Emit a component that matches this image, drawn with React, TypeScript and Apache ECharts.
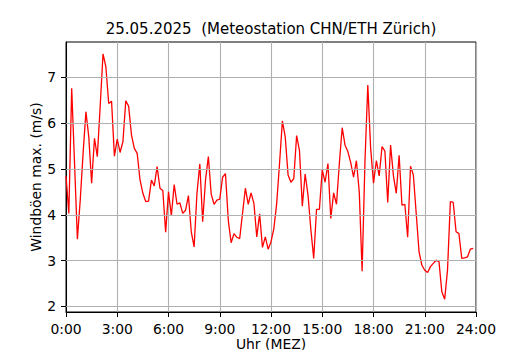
import React, { useEffect, useRef } from "react";
import * as echarts from "echarts";

// 10-minute wind gust maxima (m/s), starting 0:00
const startHour = 0;
const stepMinutes = 10;
const gustValues = [
  4.85, 4.03, 6.76, 5.12, 3.47, 4.32, 5.34, 6.25, 5.7, 4.69,
  5.67, 5.27, 6.36, 7.51, 7.23, 6.43, 6.48, 5.28, 5.65, 5.36,
  5.6, 6.49, 6.37, 5.74, 5.45, 5.34, 4.76, 4.47, 4.29, 4.3,
  4.76, 4.63, 5.05, 4.58, 4.53, 3.62, 4.5, 3.98, 4.66, 4.23,
  4.26, 4.03, 4.1, 4.42, 3.63, 3.3, 4.47, 5.11, 3.85, 4.76,
  5.27, 4.45, 4.23, 4.32, 4.34, 4.82, 4.9, 3.88, 3.39, 3.59,
  3.51, 3.48, 4.03, 4.58, 4.23, 4.48, 4.25, 3.52, 4.02, 3.29,
  3.52, 3.25, 3.41, 3.7, 4.25, 5.12, 6.05, 5.7, 4.87, 4.71,
  4.79, 5.73, 5.4, 4.19, 4.89, 4.43, 3.68, 3.05, 4.12, 4.12,
  4.98, 4.71, 5.12, 3.92, 4.48, 4.23, 5.12, 5.9, 5.52, 5.38,
  5.14, 4.82, 5.18, 4.5, 2.77, 5.16, 6.83, 5.45, 4.69, 5.18,
  4.85, 5.49, 5.39, 4.27, 5.52, 4.85, 4.47, 5.3, 4.21, 4.23,
  3.51, 5.06, 4.87, 4.03, 3.19, 2.9, 2.79, 2.74, 2.87, 2.94,
  3.01, 2.98, 2.32, 2.16, 2.8, 4.29, 4.27, 3.63, 3.59, 3.05,
  3.06, 3.08, 3.25, 3.27,
];

const xTickValues = [0, 3, 6, 9, 12, 15, 18, 21, 24];
const xTickLabels = ["0:00", "3:00", "6:00", "9:00", "12:00", "15:00", "18:00", "21:00", "24:00"];
const yTickValues = [2, 3, 4, 5, 6, 7];
const yMin = 1.88;
const yMax = 7.77;

const titleText = "25.05.2025  (Meteostation CHN/ETH Zürich)";
const xName = "Uhr (MEZ)";
const yName = "Windböen max. (m/s)";

const FONT = "DejaVu Sans";

export default function App() {
  const ref = useRef<HTMLDivElement>(null);

  useEffect(() => {
    if (!ref.current) return;
    const chart = echarts.init(ref.current, undefined, { renderer: "svg" });
    const seriesData = gustValues.map((v, i) => [startHour + (i * stepMinutes) / 60, v]);
    const gridLeft = 66;
    const gridTop = 42;
    const gridWidth = 410;
    const gridHeight = 270;

    chart.setOption({
      animation: false,
      backgroundColor: "#ffffff",
      textStyle: { fontFamily: FONT },
      grid: {
        left: gridLeft,
        top: gridTop,
        width: gridWidth,
        height: gridHeight,
        show: true,
        borderColor: "#000000",
        borderWidth: 1,
        backgroundColor: "transparent",
        containLabel: false,
        outerBoundsMode: "none",
      },
      graphic: [
        {
          type: "text",
          x: gridLeft + gridWidth / 2,
          y: 36,
          style: {
            text: titleText,
            fontFamily: FONT,
            fontSize: 15,
            fill: "#000000",
            textAlign: "center",
            textVerticalAlign: "bottom",
          },
        },
      ],
      xAxis: {
        type: "value",
        min: 0,
        max: 24,
        interval: 3,
        name: xName,
        nameLocation: "middle",
        nameGap: 25,
        nameMoveOverlap: false,
        nameTextStyle: { fontFamily: FONT, fontSize: 13.9, lineHeight: 13, color: "#000000" },
        axisLine: { show: true, onZero: false, lineStyle: { color: "#000000", width: 1 } },
        axisTick: { show: true, length: 5, lineStyle: { color: "#000000", width: 1 } },
        axisLabel: {
          margin: 10,
          fontFamily: FONT,
          fontSize: 13.9,
          lineHeight: 14,
          color: "#000000",
          formatter: (v: number) => {
            const idx = xTickValues.indexOf(v);
            return idx >= 0 ? xTickLabels[idx] : "";
          },
        },
        splitLine: { show: true, lineStyle: { color: "#b0b0b0", width: 1.1 } },
      },
      yAxis: {
        type: "value",
        min: yMin,
        max: yMax,
        name: yName,
        nameLocation: "middle",
        nameGap: 23,
        nameMoveOverlap: false,
        nameTextStyle: { fontFamily: FONT, fontSize: 13.9, color: "#000000" },
        axisLine: { show: true, onZero: false, lineStyle: { color: "#000000", width: 1 } },
        axisTick: {
          show: true,
          length: 5,
          customValues: yTickValues,
          lineStyle: { color: "#000000", width: 1 },
        },
        axisLabel: {
          margin: 10,
          fontFamily: FONT,
          fontSize: 13.9,
          color: "#000000",
          customValues: yTickValues,
          formatter: (v: number) => String(v),
        },
        splitLine: { show: false },
      },
      series: [
        {
          type: "line",
          z: 1,
          silent: true,
          data: seriesData,
          showSymbol: false,
          symbol: "none",
          lineStyle: { opacity: 0 },
          markLine: {
            silent: true,
            symbol: "none",
            label: { show: false },
            lineStyle: { color: "#b0b0b0", width: 1.1, type: "solid" },
            data: yTickValues.map((v) => ({ yAxis: v })),
          },
        },
        {
          type: "line",
          z: 3,
          data: seriesData,
          showSymbol: false,
          symbol: "none",
          lineStyle: { color: "#ff0000", width: 1.3 },
        },
      ],
    });
    return () => chart.dispose();
  }, []);

  return (
    <div
      ref={ref}
      style={{ position: "absolute", left: 0, top: 0, width: 530, height: 350 }}
    />
  );
}
